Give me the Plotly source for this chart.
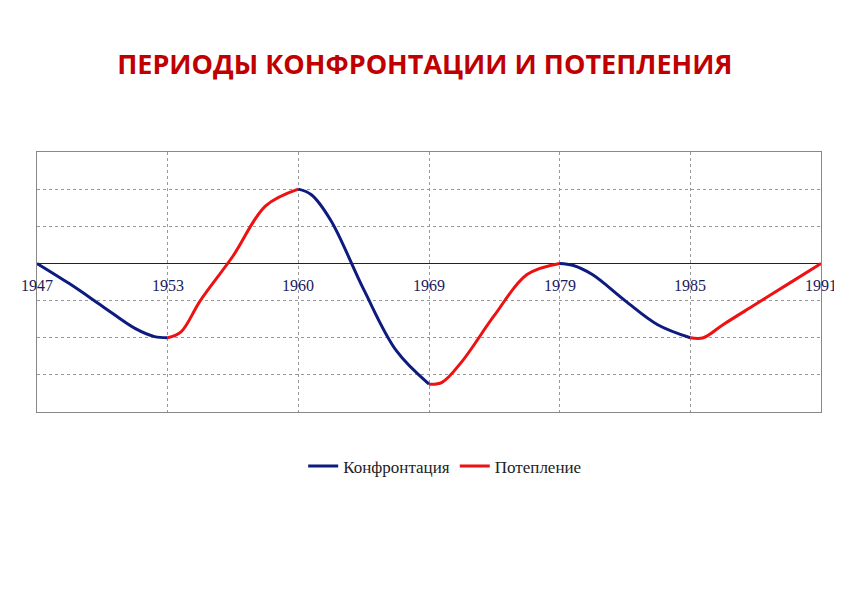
import plotly.graph_objects as go

years = ["1947", "1953", "1960", "1969", "1979", "1985", "1991"]

# segments: x positions and values
seg_x = [
    [0, 0.25, 0.5, 0.75, 0.9, 1],
    [1, 1.1, 1.25, 1.5, 1.75, 2],
    [2, 2.1, 2.25, 2.5, 2.75, 3],
    [3, 3.1, 3.25, 3.5, 3.75, 4],
    [4, 4.1, 4.25, 4.5, 4.75, 5],
    [5, 5.1, 5.25, 5.5, 5.75, 6],
]
seg_y = [
    [0, -0.55, -1.15, -1.75, -1.97, -2],
    [-2, -1.85, -1.0, 0.2, 1.55, 2],
    [2, 1.85, 1.15, -0.7, -2.35, -3.25],
    [-3.25, -3.2, -2.65, -1.4, -0.3, 0],
    [0, -0.05, -0.3, -1.0, -1.65, -2],
    [-2, -2.0, -1.65, -1.1, -0.55, 0],
]
seg_kind = ["Конфронтация", "Потепление", "Конфронтация", "Потепление", "Конфронтация", "Потепление"]
colors = {"Конфронтация": "#0d1a80", "Потепление": "#ee1111"}

fig = go.Figure()
shown = set()
for xs, ys, k in zip(seg_x, seg_y, seg_kind):
    fig.add_trace(go.Scatter(
        x=xs, y=ys, mode="lines", name=k,
        line=dict(color=colors[k], width=3, shape="spline", smoothing=1.0),
        showlegend=k not in shown, legendgroup=k,
    ))
    shown.add(k)

for i, yr in enumerate(years):
    fig.add_annotation(x=i, y=0, text=yr, showarrow=False, yanchor="top", yshift=-12,
                       font=dict(family="Liberation Serif", size=16, color="#1a1a5e"))

fig.update_xaxes(range=[0, 6], dtick=1, showticklabels=False, showgrid=True,
                 gridcolor="#999", griddash="dot", zeroline=False,
                 showline=True, linecolor="#888", mirror=True)
fig.update_yaxes(range=[-4, 3], dtick=1, showticklabels=False, showgrid=True,
                 gridcolor="#999", griddash="dot", zeroline=True, zerolinecolor="#222",
                 zerolinewidth=1, showline=True, linecolor="#888", mirror=True)

fig.update_layout(
    width=842, height=595,
    paper_bgcolor="white", plot_bgcolor="white",
    margin=dict(l=29, r=29, t=144, b=191),
    title=dict(text="<b>ПЕРИОДЫ КОНФРОНТАЦИИ И ПОТЕПЛЕНИЯ</b>", x=0.495, xanchor="center",
               y=0.905, yanchor="middle",
               font=dict(family="Open Sans", size=27, color="#c00000")),
    legend=dict(orientation="h", x=0.52, xanchor="center", y=-0.14, yanchor="top",
                font=dict(family="Liberation Serif", size=17, color="#222")),
)

fig.write_html("out.html")
